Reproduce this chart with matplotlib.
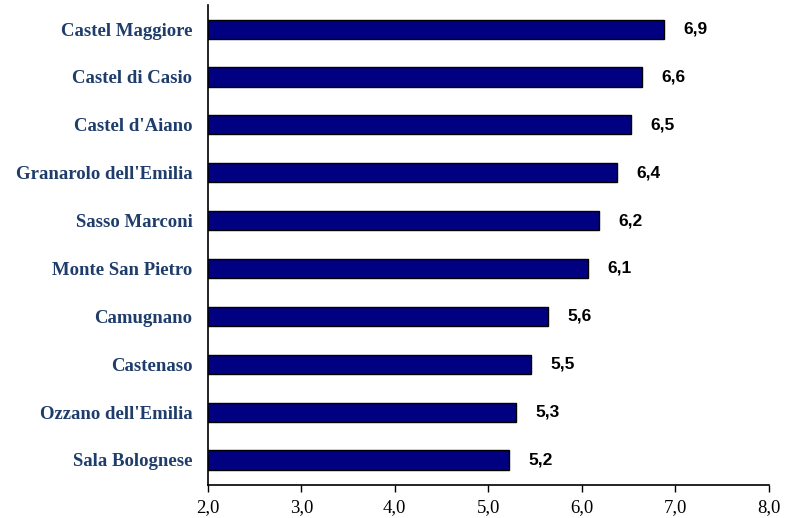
import matplotlib.pyplot as plt

comuni = ["Sala Bolognese", "Ozzano dell'Emilia", "Castenaso", "Camugnano",
          "Monte San Pietro", "Sasso Marconi", "Granarolo dell'Emilia",
          "Castel d'Aiano", "Castel di Casio", "Castel Maggiore"]
valori = [5.22, 5.30, 5.46, 5.64, 6.07, 6.18, 6.38, 6.53, 6.64, 6.88]
xticks = [2.0, 3.0, 4.0, 5.0, 6.0, 7.0, 8.0]

fig = plt.figure(figsize=(7.87, 5.18), dpi=100)
ax = fig.add_axes([0.264, 0.064, 0.713, 0.926])

pos = range(len(comuni))
ax.barh(pos, valori, height=0.4, color="#000080", edgecolor="black", linewidth=1)

for i, v in enumerate(valori):
    ax.annotate(f"{v:.1f}".replace(".", ","), (v, i), xytext=(14, 0),
                textcoords="offset points", va="center", ha="left",
                fontsize=12.5, fontweight="bold", family="Liberation Sans")

ax.set_xlim(2, 8)
ax.set_ylim(-0.52, 9.5)
ax.set_xticks(xticks)
ax.set_xticklabels([f"{t:.1f}".replace(".", ",") for t in xticks],
                   family="Liberation Serif", fontsize=13.5)
ax.set_yticks(list(pos))
ax.set_yticklabels(comuni, family="Liberation Serif", fontweight="bold",
                   fontsize=13.5, color="#1F3D6B")
ax.tick_params(axis="y", length=0, pad=11)
ax.tick_params(axis="x", length=5, width=1, direction="out", pad=5)
for s in ["top", "right"]:
    ax.spines[s].set_visible(False)
ax.spines["left"].set_linewidth(1.2)
ax.spines["bottom"].set_linewidth(1.2)

fig.savefig("out.png", dpi=100)
